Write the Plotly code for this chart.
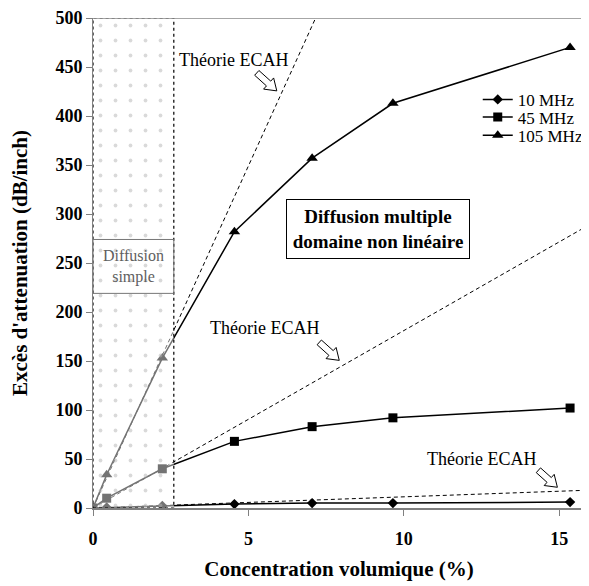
import math
import plotly.graph_objects as go

# ---- data ----
conc = [0, 0.44, 2.23, 4.55, 7.05, 9.65, 15.35]
att_10 = [0, 0.5, 2, 4, 5, 5, 6]
att_45 = [0, 10, 40, 68, 83, 92, 102]
att_105 = [0, 34, 153, 282, 357, 413, 470]
series_names = ["10 MHz", "45 MHz", "105 MHz"]
series_symbols = ["diamond", "square", "triangle-up"]
series_sizes = [8, 9, 10]

# ECAH theory (linear, slope in dB/inch per %)
theory_x_end = [15.85, 15.85, 7.16]
theory_slope = [1.14, 18.1, 69.8]

# single scattering region
simple_x = [0, 2.6]
x_max = 15.83
y_max = 500

serif = "Liberation Serif, Times New Roman, Times, serif"

fig = go.Figure()

legend_ids = ["legend", "legend2", "legend3"]
for name, ys, sym, sz, lg in zip(series_names, [att_10, att_45, att_105], series_symbols, series_sizes, legend_ids):
    fig.add_trace(go.Scatter(
        x=conc, y=ys, name=name, mode="lines+markers", legend=lg,
        line=dict(color="black", width=1.5),
        marker=dict(symbol=sym, size=sz, color="black"),
    ))

for xe, s in zip(theory_x_end, theory_slope):
    fig.add_trace(go.Scatter(
        x=[0, xe], y=[0, s * xe], mode="lines", showlegend=False,
        line=dict(color="black", width=1, dash="4px,3px"),
        hoverinfo="skip",
    ))

# dotted shaded region (drawn over the data, semi-transparent)
fig.add_trace(go.Scatter(
    x=[simple_x[0], simple_x[1], simple_x[1], simple_x[0], simple_x[0]],
    y=[0, 0, y_max, y_max, 0],
    mode="lines", fill="toself", showlegend=False, hoverinfo="skip",
    line=dict(color="black", width=1.2, dash="dot"),
    fillcolor="rgba(255,255,255,0.45)",
    fillpattern=dict(shape=".", fgcolor="#b4b4b4", bgcolor="rgba(255,255,255,0.45)",
                     size=15, solidity=0.05),
))

shapes = []
# top frame line
shapes.append(dict(type="line", xref="paper", yref="y", x0=0, x1=1, y0=y_max, y1=y_max,
                   line=dict(color="#888888", width=1.5), layer="above"))
# "Diffusion simple" box
shapes.append(dict(type="rect", xref="x", yref="y", x0=simple_x[0], x1=simple_x[1], y0=219, y1=274,
                   line=dict(color="#777777", width=1), fillcolor="rgba(0,0,0,0)"))


def block_arrow(xa, ya, dx, dy):
    # hollow block arrow, pixel geometry anchored at data point (tail)
    L = math.hypot(dx, dy)
    ux, uy = dx / L, dy / L
    vx, vy = -uy, ux
    shaft_w, head_w, head_l = 3.2, 7.5, 11
    pts_local = [(0, shaft_w), (L - head_l, shaft_w), (L - head_l, head_w), (L, 0),
                 (L - head_l, -head_w), (L - head_l, -shaft_w), (0, -shaft_w)]
    pts = [(u * ux + v * vx, u * uy + v * vy) for u, v in pts_local]
    path = "M " + " L ".join(f"{px:.2f},{py:.2f}" for px, py in pts) + " Z"
    return dict(type="path", xref="x", yref="y", xsizemode="pixel", ysizemode="pixel",
                xanchor=xa, yanchor=ya, path=path,
                line=dict(color="black", width=1), fillcolor="white")


shapes.append(block_arrow(5.27, 444, 20, -18))
shapes.append(block_arrow(7.28, 169, 20, -18))
shapes.append(block_arrow(14.33, 38.5, 19, -17))

ann_font = dict(family=serif, size=18, color="black")
annotations = [
    dict(x=4.53, y=457, text="Théorie ECAH", showarrow=False, font=ann_font),
    dict(x=5.52, y=184, text="Théorie ECAH", showarrow=False, font=ann_font),
    dict(x=12.51, y=50, text="Théorie ECAH", showarrow=False, font=ann_font),
    dict(x=1.3, y=246.5, text="Diffusion<br>simple", showarrow=False,
         font=dict(family=serif, size=16, color="#606060")),
    dict(x=9.16, y=285, text="<b>Diffusion multiple<br>domaine non linéaire</b>", showarrow=False,
         font=dict(family=serif, size=19, color="black"), bgcolor="white",
         bordercolor="black", borderwidth=1, borderpad=1, width=180, height=56),
]

legend_common = dict(xanchor="left", yanchor="middle", x=0.782,
                     font=dict(family=serif, size=17), bgcolor="rgba(0,0,0,0)", itemwidth=30)
legend_y = [0.833, 0.797, 0.760]

tick_font = dict(family=serif, size=18, weight="bold", color="black")
title_font = dict(family=serif, size=21, color="black")

fig.update_layout(
    width=581, height=578,
    margin=dict(l=85, r=0, t=7, b=78),
    paper_bgcolor="white", plot_bgcolor="white",
    font=dict(family=serif, color="black"),
    shapes=shapes, annotations=annotations,
    legend=dict(legend_common, y=legend_y[0]),
    legend2=dict(legend_common, y=legend_y[1]),
    legend3=dict(legend_common, y=legend_y[2]),
    xaxis=dict(range=[0, x_max], tickvals=[0, 5, 10, 15], showgrid=False, zeroline=False,
               showline=True, linecolor="#808080", linewidth=2,
               ticks="outside", ticklen=6, tickcolor="#808080", ticklabelstandoff=7,
               ticklabeloverflow="allow",
               tickfont=tick_font,
               title=dict(text="<b>Concentration volumique (%)</b>", standoff=14, font=title_font)),
    yaxis=dict(range=[0, y_max], tickvals=list(range(0, 501, 50)), showgrid=False, zeroline=False,
               showline=True, linecolor="#808080", linewidth=1,
               ticks="outside", ticklen=6, tickcolor="#808080",
               ticklabeloverflow="allow",
               tickfont=tick_font,
               title=dict(text="<b>Excès d'attenuation (dB/inch)</b>", standoff=22, font=title_font)),
)

fig.write_html("out.html")
